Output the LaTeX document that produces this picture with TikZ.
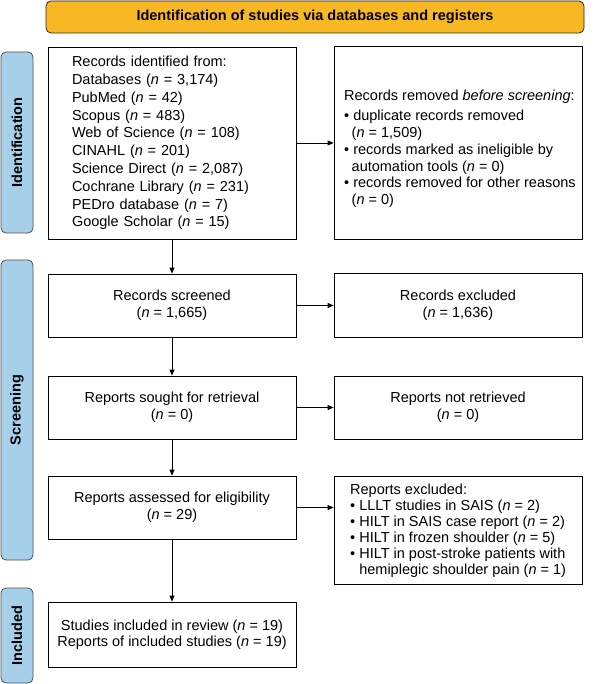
\documentclass[tikz,border=0pt]{standalone}
\usepackage{fontspec}
\setmainfont{Liberation Sans}
\usetikzlibrary{arrows.meta}
\definecolor{titlefill}{RGB}{247,184,36}
\definecolor{labfill}{RGB}{166,208,234}
\definecolor{labdraw}{RGB}{80,80,80}
\begin{document}
\begin{tikzpicture}[x=1pt,y=-1pt,
  box/.style={draw=black, line width=0.8pt, fill=white, align=center, inner sep=0pt,
    minimum width=248pt, font=\fontsize{14.5}{16.7}\selectfont},
  phase/.style={draw=labdraw, fill=labfill, rounded corners=5pt, line width=0.8pt,
    rotate=90, minimum height=32pt, inner sep=0pt, font=\bfseries\fontsize{14.5}{17}\selectfont},
  arr/.style={-{Triangle[length=6pt,width=5pt]}, line width=0.8pt}]
\useasboundingbox (0,0) rectangle (595,684);

\node[draw=black!85, fill=titlefill, rounded corners=5pt, line width=0.8pt,
  minimum width=538pt, minimum height=32pt, inner sep=0pt,
  font=\bfseries\fontsize{14.5}{17}\selectfont] (title) at (315,17)
  {Identification of studies via databases and registers};

\node[phase, minimum width=181pt] (idlab) at (17,142.5) {Identification};
\node[phase, minimum width=300pt] (scrlab) at (17,410) {Screening};
\node[phase, minimum width=95pt] (inclab) at (17,635.5) {Included};

\node[box, minimum height=192pt, text width=200pt, inner xsep=24pt, align=left,
  font=\fontsize{14.5}{17.8}\selectfont] (ident) at (172,143)
  {Records identified from:\\
   Databases (\textit{n} = 3,174)\\
   PubMed (\textit{n} = 42)\\
   Scopus (\textit{n} = 483)\\
   Web of Science (\textit{n} = 108)\\
   CINAHL (\textit{n} = 201)\\
   Science Direct (\textit{n} = 2,087)\\
   Cochrane Library (\textit{n} = 231)\\
   PEDro database (\textit{n} = 7)\\
   Google Scholar (\textit{n} = 15)};

\node[box, minimum height=193pt] (removed) at (458,142.5) {};
\node[anchor=west, align=left, inner sep=0pt, font=\fontsize{14.5}{16.8}\selectfont]
  (removedtxt) at (344,149)
  {Records removed \textit{before screening}:\\[3pt]
   \textbullet\ duplicate records removed\\
   \phantom{\textbullet}\,(\textit{n} = 1,509)\\
   \textbullet\ records marked as ineligible by\\
   \phantom{\textbullet}\,automation tools (\textit{n} = 0)\\
   \textbullet\ records removed for other reasons\\
   \phantom{\textbullet}\,(\textit{n} = 0)};

\node[box, minimum height=63pt] (screened) at (172,305.5)
  {Records screened\\(\textit{n} = 1,665)};
\node[box, minimum height=64pt] (excluded) at (458,305)
  {Records excluded\\(\textit{n} = 1,636)};

\node[box, minimum height=63pt] (sought) at (172,407.5)
  {Reports sought for retrieval\\(\textit{n} = 0)};
\node[box, minimum height=63pt] (notret) at (458,407.5)
  {Reports not retrieved\\(\textit{n} = 0)};

\node[box, minimum height=63pt] (assessed) at (172,507.5)
  {Reports assessed for eligibility\\(\textit{n} = 29)};
\node[box, minimum height=108pt] (repex) at (458,530) {};
\node[anchor=west, align=left, inner sep=0pt, font=\fontsize{14.5}{16}\selectfont]
  (repextxt) at (350,531)
  {Reports excluded:\\
   \textbullet\ LLLT studies in SAIS (\textit{n} = 2)\\
   \textbullet\ HILT in SAIS case report (\textit{n} = 2)\\
   \textbullet\ HILT in frozen shoulder (\textit{n} = 5)\\
   \textbullet\ HILT in post-stroke patients with\\
   \phantom{\textbullet\ }hemiplegic shoulder pain (\textit{n} = 1)};

\node[box, minimum height=65pt, font=\fontsize{14.5}{16.2}\selectfont] (studies) at (172,634.5)
  {Studies included in review (\textit{n} = 19)\\Reports of included studies (\textit{n} = 19)};

\draw[arr] (ident.south) -- (screened.north);
\draw[arr] (screened.south) -- (sought.north);
\draw[arr] (sought.south) -- (assessed.north);
\draw[arr] (assessed.south) -- (studies.north);
\draw[arr] (ident.east) -- (ident.east -| removed.west);
\draw[arr] (screened.east) -- (screened.east -| excluded.west);
\draw[arr] (sought.east) -- (sought.east -| notret.west);
\draw[arr] (assessed.east) -- (assessed.east -| repex.west);
\end{tikzpicture}
\end{document}
